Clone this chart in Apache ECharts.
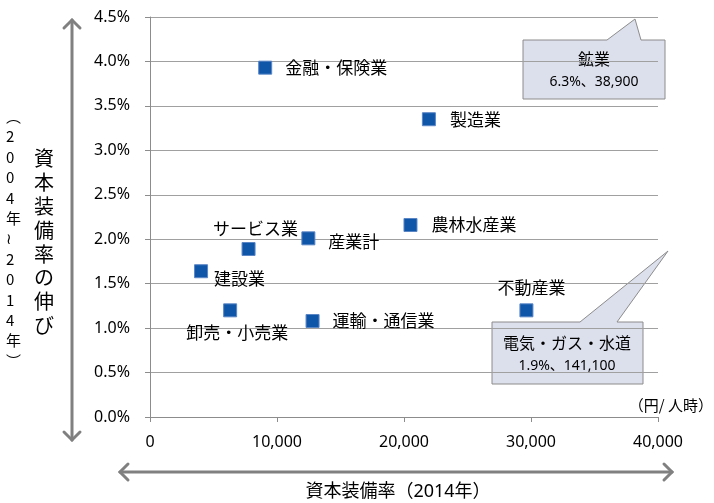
<!DOCTYPE html>
<html><head><meta charset="utf-8">
<script src="https://cdn.jsdelivr.net/npm/echarts@6/dist/echarts.min.js"></script>
<style>html,body{margin:0;padding:0;background:#fff}#c{width:714px;height:503px}</style>
</head><body><div id="c"></div>
<script>
// Data
const industries = ['金融・保険業','製造業','サービス業','産業計','農林水産業','建設業','卸売・小売業','運輸・通信業','不動産業'];
const capitalPerHour = [9070, 21960, 7760, 12470, 20510, 4020, 6310, 12800, 29640];   // 円/人時 (2014)
const growthRate = [3.93, 3.35, 1.89, 2.01, 2.16, 1.64, 1.20, 1.08, 1.20];            // % (2004-2014)
const xTicks = [0, 10000, 20000, 30000, 40000];
const yTicks = [0, 0.5, 1.0, 1.5, 2.0, 2.5, 3.0, 3.5, 4.0, 4.5];
const offChart = [
  { name: '鉱業', text: '6.3%、38,900' },
  { name: '電気・ガス・水道', text: '1.9%、141,100' }
];

// label placement per point (style only)
const labelPos = {
  '金融・保険業': { position: 'right', distance: 13, offset: [0, 0] },
  '製造業': { position: 'right', distance: 14, offset: [0, 0] },
  'サービス業': { position: 'top', distance: 5, offset: [7, 0] },
  '産業計': { position: 'right', distance: 13, offset: [0, 3] },
  '農林水産業': { position: 'right', distance: 14, offset: [0, 0] },
  '建設業': { position: 'right', distance: 6, offset: [0, 7] },
  '卸売・小売業': { position: 'bottom', distance: 7, offset: [7, 0] },
  '運輸・通信業': { position: 'right', distance: 13, offset: [0, 0] },
  '不動産業': { position: 'top', distance: 7, offset: [5, 0] }
};

const cjk = '"Noto Sans CJK JP", "Noto Sans", sans-serif';
const num = '"Noto Sans", "Noto Sans CJK JP", sans-serif';

const points = industries.map((n, i) => ({
  name: n,
  value: [capitalPerHour[i], growthRate[i]],
  label: Object.assign({ show: true, formatter: '{b}', color: '#000', fontSize: 17, fontFamily: cjk }, labelPos[n])
}));

function comma(v){ return String(v).replace(/\B(?=(\d{3})+(?!\d))/g, ','); }

const grey = '#808080';
const arrowStyle = { stroke: grey, lineWidth: 3, fill: null, lineCap: 'round', lineJoin: 'miter' };

const chart = echarts.init(document.getElementById('c'), null, { renderer: 'canvas' });
chart.setOption({
  animation: false,
  backgroundColor: '#fff',
  grid: { left: 150, right: 56, top: 17, bottom: 86, containLabel: false },
  xAxis: {
    type: 'value', min: xTicks[0], max: xTicks[xTicks.length - 1], interval: xTicks[1] - xTicks[0],
    axisLine: { show: true, lineStyle: { color: '#8c8c8c', width: 1 } },
    axisTick: { show: true, length: 5, lineStyle: { color: '#8c8c8c' } },
    splitLine: { show: false },
    axisLabel: { formatter: v => comma(v), color: '#000', fontSize: 16, fontFamily: num, margin: 17 }
  },
  yAxis: {
    type: 'value', min: yTicks[0], max: yTicks[yTicks.length - 1], interval: yTicks[1] - yTicks[0],
    axisLine: { show: true, lineStyle: { color: '#8c8c8c', width: 1 } },
    axisTick: { show: true, length: 5, lineStyle: { color: '#8c8c8c' } },
    splitLine: { show: true, lineStyle: { color: '#a0a0a0', width: 1 } },
    axisLabel: { formatter: v => v.toFixed(1) + '%', color: '#000', fontSize: 16, fontFamily: num, margin: 20 }
  },
  series: [{
    type: 'scatter',
    symbol: 'rect',
    symbolSize: 13,
    itemStyle: { color: '#0F56A8', borderColor: '#5A86C6', borderWidth: 1, opacity: 1 },
    data: points
  }],
  graphic: [
    // vertical double arrow
    { type: 'polyline', shape: { points: [[72, 20], [72, 440]] }, style: arrowStyle, silent: true },
    { type: 'polyline', shape: { points: [[64, 28], [72, 20], [80, 28]] }, style: arrowStyle, silent: true },
    { type: 'polyline', shape: { points: [[64, 432], [72, 440], [80, 432]] }, style: arrowStyle, silent: true },
    // horizontal double arrow
    { type: 'polyline', shape: { points: [[120, 472], [672, 472]] }, style: arrowStyle, silent: true },
    { type: 'polyline', shape: { points: [[128, 464], [120, 472], [128, 480]] }, style: arrowStyle, silent: true },
    { type: 'polyline', shape: { points: [[664, 464], [672, 472], [664, 480]] }, style: arrowStyle, silent: true },
    // y axis titles (vertical)
    { type: 'text', left: 34, top: 147, style: { text: '資本装備率の伸び'.split('').join('\n'), font: '20px ' + cjk, fill: '#000', lineHeight: 23.8, align: 'center' }, silent: true },
    { type: 'text', left: 6, top: 106, style: { text: ['︵','2','0','0','4','年','≀','2','0','1','4','年','︶'].join('\n'), font: '15px ' + cjk, fill: '#000', lineHeight: 20.4, align: 'center' }, silent: true },
    // x axis title and unit
    { type: 'text', x: 398, y: 492, style: { text: '資本装備率（2014年）', font: '18px ' + num, fill: '#000', align: 'center', verticalAlign: 'middle' }, silent: true },
    { type: 'text', x: 713, y: 405, style: { text: '（円/ 人時）', font: '15px ' + cjk, fill: '#000', align: 'right', verticalAlign: 'middle' }, silent: true },
    // callout: 鉱業
    { type: 'polygon', shape: { points: [[523,40],[607,40],[635,19],[641,40],[665,40],[665,99],[523,99]] }, style: { fill: '#DCDFEC', stroke: '#8c8c8c', lineWidth: 1 }, silent: true },
    { type: 'text', x: 594, y: 59, style: { text: offChart[0].name, font: '16px ' + cjk, fill: '#000', align: 'center', verticalAlign: 'middle' }, silent: true },
    { type: 'text', x: 594, y: 82, style: { text: offChart[0].text, font: '14px ' + num, fill: '#000', align: 'center', verticalAlign: 'middle' }, silent: true },
    // callout: 電気・ガス・水道
    { type: 'polygon', shape: { points: [[492,322],[580,322],[668,251],[617,322],[643,322],[643,384],[492,384]] }, style: { fill: '#DCDFEC', stroke: '#8c8c8c', lineWidth: 1 }, silent: true },
    { type: 'text', x: 567, y: 343, style: { text: offChart[1].name, font: '16px ' + cjk, fill: '#000', align: 'center', verticalAlign: 'middle' }, silent: true },
    { type: 'text', x: 567, y: 366, style: { text: offChart[1].text, font: '14px ' + num, fill: '#000', align: 'center', verticalAlign: 'middle' }, silent: true }
  ]
});
</script>
</body></html>
